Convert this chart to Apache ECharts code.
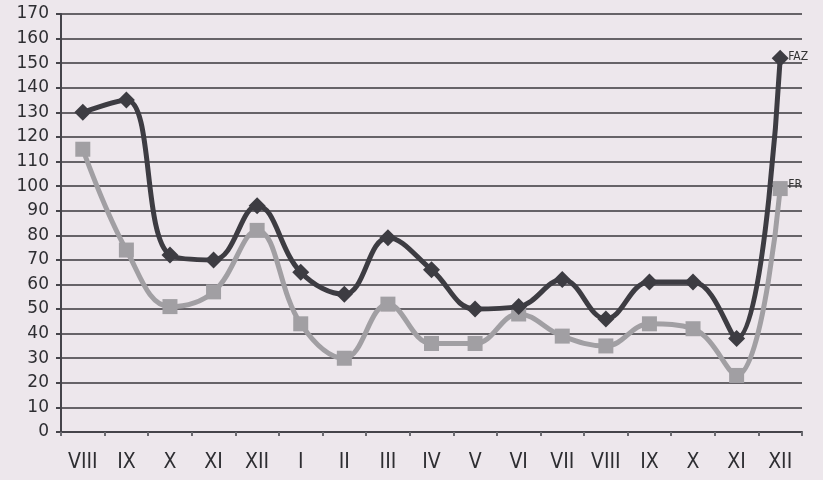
<!DOCTYPE html>
<html>
<head>
<meta charset="utf-8">
<script src="https://cdn.jsdelivr.net/npm/echarts@6/dist/echarts.min.js"></script>
<style>
html,body{margin:0;padding:0;background:#ede7ec;}
#c{width:823px;height:480px;}
</style>
</head>
<body>
<div id="c"></div>
<script>
const categories = ["VIII","IX","X","XI","XII","I","II","III","IV","V","VI","VII","VIII","IX","X","XI","XII"];
const fazValues = [130, 135, 72, 70, 92, 65, 56, 79, 66, 50, 51, 62, 46, 61, 61, 38, 152];
const frValues = [115, 74, 51, 57, 82, 44, 30, 52, 36, 36, 48, 39, 35, 44, 42, 23, 99];
const yTicks = {min: 0, max: 170, interval: 10};

const chart = echarts.init(document.getElementById('c'), null, {renderer: 'canvas'});
chart.setOption({
  backgroundColor: '#ede7ec',
  animation: false,
  grid: {left: 61, right: 21, top: 14, bottom: 48},
  xAxis: {
    type: 'category',
    data: categories,
    boundaryGap: true,
    axisLine: {lineStyle: {color: '#45444a', width: 2}},
    axisTick: {show: true, length: 4, lineStyle: {color: '#6a6a70', width: 2}},
    axisLabel: {color: '#2e2e32', fontSize: 21, fontFamily: 'DejaVu Sans Condensed, Liberation Sans Narrow, sans-serif', margin: 20, interval: 0},
    splitLine: {show: false}
  },
  yAxis: {
    type: 'value',
    min: yTicks.min, max: yTicks.max, interval: yTicks.interval,
    axisLine: {show: true, lineStyle: {color: '#45444a', width: 2}},
    axisTick: {show: true, length: 5, lineStyle: {color: '#45444a', width: 2}},
    axisLabel: {color: '#2e2e32', fontSize: 17, fontFamily: 'DejaVu Sans, sans-serif', margin: 12},
    splitLine: {show: true, lineStyle: {color: '#38373d', width: 1.5}}
  },
  series: [
    {
      name: 'FR',
      type: 'line',
      data: frValues,
      smooth: 0.4,
      symbol: 'rect',
      symbolSize: 15,
      lineStyle: {color: '#a19fa3', width: 5},
      itemStyle: {color: '#a19fa3'},
      endLabel: {show: true, formatter: '{a}', color: '#333', fontSize: 12, fontFamily: 'DejaVu Sans Condensed, DejaVu Sans, sans-serif', distance: 8, offset: [0, -4]},
      z: 2
    },
    {
      name: 'FAZ',
      type: 'line',
      data: fazValues,
      smooth: 0.4,
      symbol: 'diamond',
      symbolSize: 17,
      lineStyle: {color: '#3d3c42', width: 5},
      itemStyle: {color: '#3d3c42'},
      endLabel: {show: true, formatter: '{a}', color: '#333', fontSize: 12, fontFamily: 'DejaVu Sans Condensed, DejaVu Sans, sans-serif', distance: 8, offset: [0, -1]},
      z: 3
    }
  ]
});
</script>
</body>
</html>
